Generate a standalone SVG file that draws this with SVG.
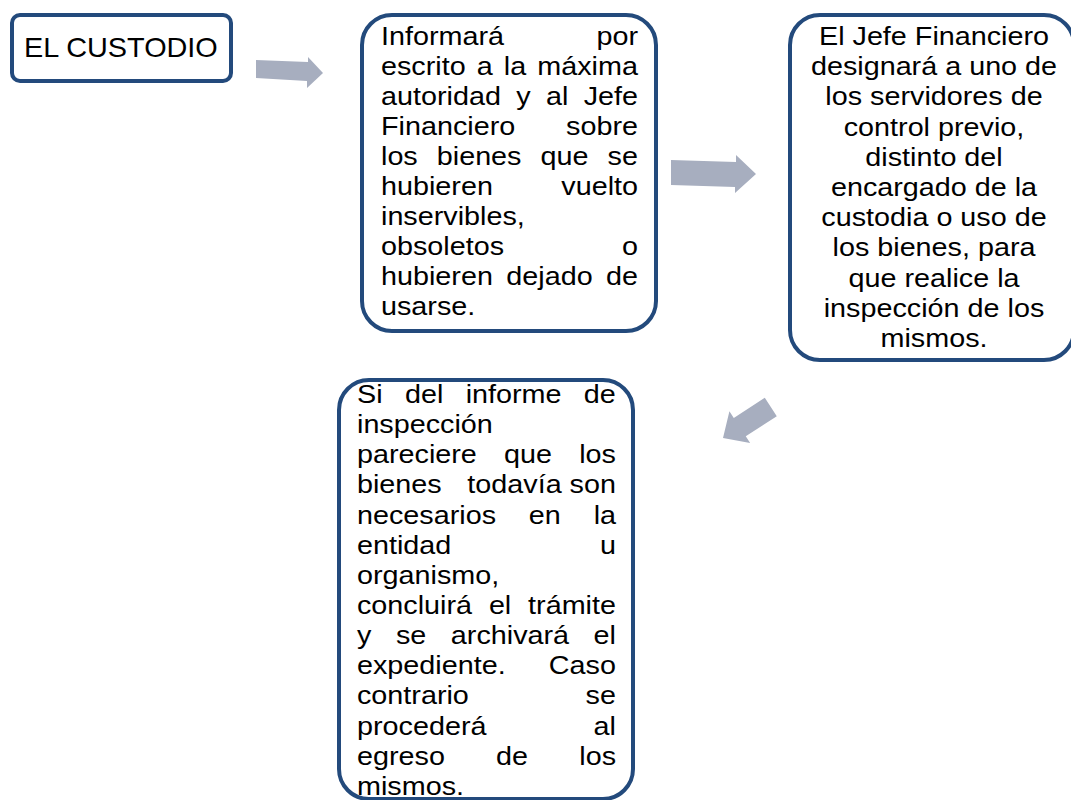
<svg xmlns="http://www.w3.org/2000/svg" width="1071" height="800" viewBox="0 0 1071 800">
<style>
.box{fill:#fff;stroke:#234a7c;stroke-width:4}
.arr{fill:#a7aebf}
text{font-family:"Liberation Sans",Arial,sans-serif;font-size:25px;fill:#000}
.e{text-anchor:end}
.m{text-anchor:middle}
</style>
<rect width="1071" height="800" fill="#fff"/>
<g id="connectors">
<polygon class="arr" points="256,60 308,62 308,57 323,73 307,88 307,81 256,78"/>
<polygon class="arr" points="671,160 736,162 736,155 756,174 735,193 735,187 671,185"/>
<polygon class="arr" transform="translate(723,438) rotate(147)" points="-57,-11 -20,-11 -20,-19 0,0 -20,19 -20,11 -57,11"/>
</g>
<g id="node-custodio">
<rect class="box" x="12" y="15" width="219" height="66" rx="8"/>
<text transform="translate(24,0) scale(1.03,1)" x="0" y="57" style="font-size:28px">EL CUSTODIO</text>
</g>
<g id="node-informara">
<rect class="box" x="362" y="15" width="294" height="316" rx="30"/>
<g transform="translate(381,0) scale(1.15,1)">
<text x="0" y="45">Informará</text><text class="e" x="223.5" y="45">por</text>
<text x="0" y="75" word-spacing="2.7">escrito a la máxima</text>
<text x="0" y="105" word-spacing="6.4">autoridad y al Jefe</text>
<text x="0" y="135">Financiero</text><text class="e" x="223.5" y="135">sobre</text>
<text x="0" y="165" word-spacing="9.6">los bienes que se</text>
<text x="0" y="195">hubieren</text><text class="e" x="223.5" y="195">vuelto</text>
<text x="0" y="225">inservibles,</text>
<text x="0" y="255">obsoletos</text><text class="e" x="223.5" y="255">o</text>
<text x="0" y="285" word-spacing="4.75">hubieren dejado de</text>
<text x="0" y="315">usarse.</text>
</g>
</g>
<g id="node-jefe">
<rect class="box" x="790" y="15" width="284" height="345" rx="30"/>
<g transform="translate(934,0) scale(1.15,1)">
<text class="m" x="0" y="45">El Jefe Financiero</text>
<text class="m" x="0" y="75.2">designará a uno de</text>
<text class="m" x="0" y="105.4">los servidores de</text>
<text class="m" x="0" y="135.6">control previo,</text>
<text class="m" x="0" y="165.8">distinto del</text>
<text class="m" x="0" y="196">encargado de la</text>
<text class="m" x="0" y="226.2">custodia o uso de</text>
<text class="m" x="0" y="256.4">los bienes, para</text>
<text class="m" x="0" y="286.6">que realice la</text>
<text class="m" x="0" y="316.8">inspección de los</text>
<text class="m" x="0" y="347">mismos.</text>
</g>
</g>
<g id="node-informe">
<rect class="box" x="339" y="380" width="294" height="419" rx="30"/>
<g transform="translate(357,0) scale(1.15,1)">
<text x="0" y="403" word-spacing="12.5">Si del informe de</text>
<text x="0" y="433.2">inspección</text>
<text x="0" y="463.3" word-spacing="16.7">pareciere que los</text>
<text x="0" y="493.5">bienes</text><text class="e" x="225.2" y="493.5">todavía son</text>
<text x="0" y="523.6" word-spacing="21.6">necesarios en la</text>
<text x="0" y="553.8">entidad</text><text class="e" x="225.2" y="553.8">u</text>
<text x="0" y="583.9">organismo,</text>
<text x="0" y="614.1" word-spacing="7.7">concluirá el trámite</text>
<text x="0" y="644.2" word-spacing="14.4">y se archivará el</text>
<text x="0" y="674.4">expediente.</text><text class="e" x="225.2" y="674.4">Caso</text>
<text x="0" y="704.5">contrario</text><text class="e" x="225.2" y="704.5">se</text>
<text x="0" y="734.7">procederá</text><text class="e" x="225.2" y="734.7">al</text>
<text x="0" y="764.8" word-spacing="37.6">egreso de los</text>
<text x="0" y="795">mismos.</text>
</g>
</g>
</svg>
